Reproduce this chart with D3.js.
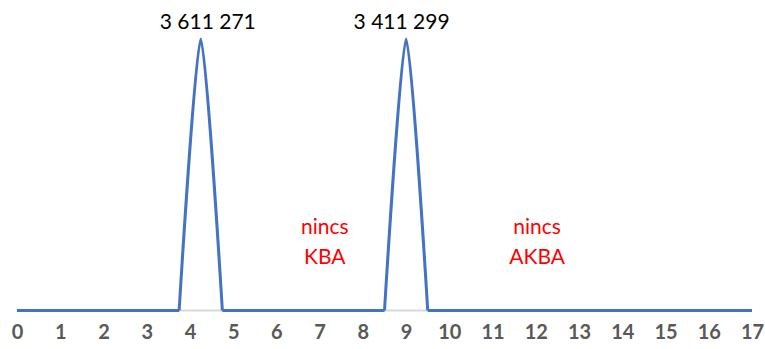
<!DOCTYPE html>
<html><head><meta charset="utf-8">
<script src="https://cdn.jsdelivr.net/npm/d3@7"></script>
<style>body{margin:0;background:#fff}svg{display:block}</style>
</head><body>
<svg id="c" width="765" height="349"></svg>
<script>
// data
const xTicks = d3.range(0, 18);
const pointX = [0, 3.75, 4.25, 4.75, 8.5, 9, 9.5, 17];
const pointY = [0, 0, 3611271, 0, 0, 3611271, 0, 0]; // drawn heights (both peaks reach same height in picture)
const peakX = [4.25, 9];
const peakLabels = ["3 611 271", "3 411 299"];
const noteX = [7.12, 12.03];
const noteLines = [["nincs", "KBA"], ["nincs", "AKBA"]];

const svg = d3.select("#c");
const x = d3.scaleLinear().domain([0, 17]).range([17, 752]);
const y = d3.scaleLinear().domain([0, 3611271]).range([310.5, 39]);

// axis line
svg.append("line").attr("x1", x(0)).attr("x2", x(17)).attr("y1", y(0)).attr("y2", y(0))
  .attr("stroke", "#d9d9d9").attr("stroke-width", 2);

const pts = pointX.map((d, i) => [d, pointY[i]]);
// split: flat runs drawn straight, each foot-peak-foot triplet drawn smoothed
const lin = d3.line().x(d => x(d[0])).y(d => y(d[1]));
const smooth = d3.line().x(d => x(d[0])).y(d => y(d[1])).curve(d3.curveCardinal.tension(0.3));
let dstr = "";
let i = 0;
while (i < pts.length - 1) {
  if (pts[i + 1][1] > 0 && i + 2 < pts.length) {
    dstr += smooth([pts[i], pts[i + 1], pts[i + 2]]);
    i += 2;
  } else {
    dstr += lin([pts[i], pts[i + 1]]);
    i += 1;
  }
}
svg.append("path").attr("d", dstr).attr("fill", "none")
  .attr("stroke", "#4472c4").attr("stroke-width", 3).attr("stroke-linejoin", "round");

// tick labels
const ax = svg.append("g").attr("transform", `translate(0,${y(0)})`)
  .call(d3.axisBottom(x).tickValues(xTicks).tickSize(0).tickPadding(14).tickFormat(d3.format("d")));
ax.select(".domain").remove();
ax.selectAll("text").attr("font-family", "Lato, 'Open Sans', sans-serif").attr("font-size", 20)
  .attr("font-weight", "bold").attr("fill", "#595959");

// data labels
const dx = [7, -4.5];
svg.selectAll(".pl").data(peakLabels).join("text").attr("class", "pl")
  .attr("x", (d, i) => x(peakX[i]) + dx[i]).attr("y", 29)
  .attr("text-anchor", "middle").attr("font-family", "Lato, sans-serif").attr("font-size", 21)
  .attr("fill", "#000").text(d => d);

// notes
noteLines.forEach((lines, i) => {
  const t = svg.append("text").attr("text-anchor", "middle").attr("font-family", "Lato, sans-serif")
    .attr("font-size", 21).attr("fill", "#ff0000");
  lines.forEach((l, j) => t.append("tspan").attr("x", x(noteX[i])).attr("y", 234 + j * 30).text(l));
});
</script>
</body></html>
